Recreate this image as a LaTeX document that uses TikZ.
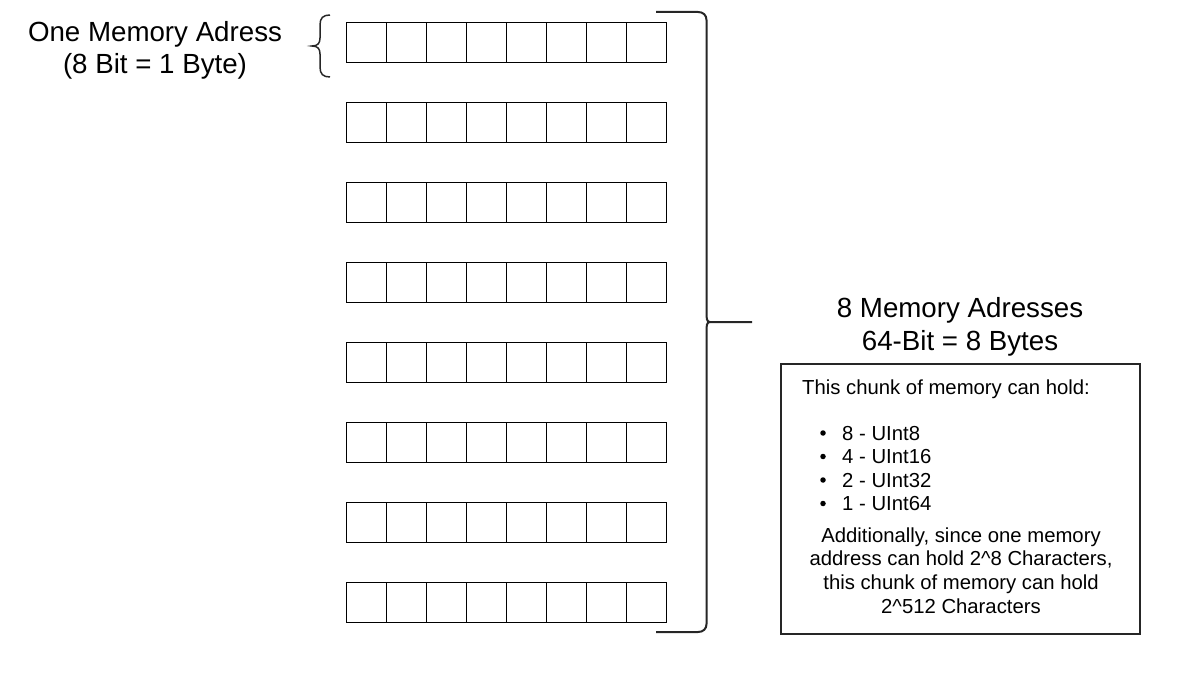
\documentclass[tikz,border=0pt]{standalone}
\usepackage{fontspec}
\setmainfont{Liberation Sans}
\tikzset{
  cell/.style={
    draw, line width=1.3pt,
    minimum size=40pt, inner sep=0pt,
    anchor=north west
  },
  bracket/.style={
    draw=black!85, line width=2pt,
  },
  title/.style={
    font=\fontsize{27.7}{32.5}\selectfont,
    align=center, inner sep=0pt, anchor=base
  },
  body/.style={
    font=\fontsize{20.3}{23.6}\selectfont,
    inner sep=0pt, anchor=base west
  },
  dot/.style={
    fill, circle, inner sep=0pt, minimum size=5.5pt
  },
  infobox/.style={
    draw=black!85, line width=1.8pt,
    minimum width=359pt, minimum height=270pt,
    inner sep=0pt, anchor=north west
  },
}

\begin{document}
\begin{tikzpicture}[x=1pt,y=-1pt]
  \useasboundingbox (0,0) rectangle (1177,679);

  % memory cells, 8 addresses of 8 bits
  \foreach \r in {0,...,7}{
    \foreach \c in {0,...,7}
      \node[cell] (cell-\r-\c) at ({346+40*\c},{22+80*\r}) {};
  }

  % one address
  \node[title] (one) at (155,74) {One Memory Adress\\(8 Bit = 1 Byte)};
  \coordinate (lb top) at (330,15);
  \coordinate (lb bot) at (330,77);
  \draw[bracket, line width=1.5pt] (lb top)
    .. controls (323,15) and (320,18) .. (320,25) -- (320,38)
    .. controls (320,43) and (318,46) .. (312,46)
    .. controls (318,46) and (320,49) .. (320,54) -- (320,67)
    .. controls (320,74) and (323,77) .. (lb bot);

  % all addresses
  \coordinate (rb top) at (656,12);
  \coordinate (rb bot) at (656,632);
  \coordinate (rb tip) at (752,322);
  \draw[bracket] (rb top) -- (698,12)
    .. controls (703,12) and (706.5,15) .. (706.5,20) -- (706.5,312)
    .. controls (706.5,318) and (706.5,322) .. (710,322) -- (rb tip);
  \draw[bracket] (710,322)
    .. controls (706.5,322) and (706.5,326) .. (706.5,332) -- (706.5,624)
    .. controls (706.5,629) and (703,632) .. (698,632) -- (rb bot);

  \node[title] (eight) at (960,350) {8 Memory Adresses\\64-Bit = 8 Bytes};

  % info box
  \node[infobox] (info) at (780,363) {};
  \node[body] (hold) at (802,394) {This chunk of memory can hold:};
  \foreach \txt [count=\i from 0] in {8 - UInt8, 4 - UInt16, 2 - UInt32, 1 - UInt64}{
    \node[body] (item\i) at (842,{440+23.5*\i}) {\txt};
    \node[dot] (dot\i) at (823,{433+23.5*\i}) {};
  }
  \node[body, align=center, anchor=base] (extra) at (961,613)
    {Additionally, since one memory\\address can hold 2\^{}8 Characters,\\this chunk of memory can hold\\2\^{}512 Characters};
\end{tikzpicture}
\end{document}
